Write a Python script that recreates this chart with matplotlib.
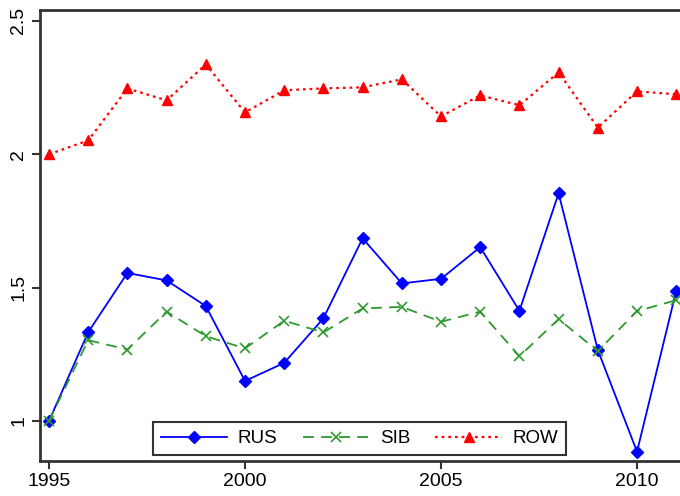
import matplotlib
matplotlib.use("Agg")
import matplotlib.pyplot as plt

plt.rcParams['font.family'] = ['Liberation Sans', 'DejaVu Sans']

years = list(range(1995, 2012))
rus = [1.0, 1.333, 1.555, 1.527, 1.431, 1.15, 1.218, 1.385, 1.685, 1.516, 1.533,
       1.652, 1.413, 1.854, 1.266, 0.885, 1.488]
sib = [1.0, 1.303, 1.268, 1.41, 1.318, 1.272, 1.376, 1.332, 1.422, 1.428, 1.372,
       1.41, 1.243, 1.382, 1.262, 1.412, 1.453]
row = [2.0, 2.052, 2.247, 2.202, 2.337, 2.157, 2.24, 2.247, 2.251, 2.281, 2.142,
       2.221, 2.184, 2.307, 2.10, 2.236, 2.225]
xticks = [1995, 2000, 2005, 2010]
yticks = [1, 1.5, 2, 2.5]
ytick_labels = ["1", "1.5", "2", "2.5"]

fig = plt.figure(figsize=(6.8, 4.96), dpi=100)
W, H = 680, 496
left_px, bottom_px, top_px = 40, 461, 10
width_px = 660
ax = fig.add_axes([left_px / W, (H - bottom_px) / H, width_px / W, (bottom_px - top_px) / H])

ax.plot(years, rus, color='#0000ff', linestyle='-', linewidth=1.3, marker='D',
        markersize=6, label='RUS', clip_on=False)
ax.plot(years, sib, color='#2e9a2e', linestyle=(0, (6, 4)), linewidth=1.3, marker='x',
        markersize=6.5, markeredgewidth=1.2, label='SIB', clip_on=False)
ax.plot(years, row, color='#ff0000', linestyle=(0, (1.2, 1.8)), linewidth=1.6, marker='^',
        markersize=7.5, label='ROW', clip_on=False)

ax.set_xlim(1994.77, 1994.77 + width_px / 39.2)
ax.set_ylim(0.85, 2.541)
ax.set_xticks(xticks)
ax.set_xticklabels([str(x) for x in xticks], fontsize=14)
ax.set_yticks(yticks)
ax.set_yticklabels(ytick_labels, fontsize=14, rotation=90, va='center')

for s in ax.spines.values():
    s.set_linewidth(2)
    s.set_color('#333333')
ax.spines['right'].set_visible(False)
ax.tick_params(axis='both', direction='out', length=6, width=1.5, color='#333333', pad=3)

leg = ax.legend(loc='lower left', bbox_to_anchor=((153 - left_px) / width_px, 6 / (bottom_px - top_px)),
                borderaxespad=0, ncol=3,
                fontsize=13.5, frameon=True, fancybox=False, handlelength=3.55,
                columnspacing=1.35, borderpad=0.42, handletextpad=0.55)
leg.get_frame().set_edgecolor('black')
leg.get_frame().set_linewidth(1.5)

fig.savefig('out.png', dpi=100)
